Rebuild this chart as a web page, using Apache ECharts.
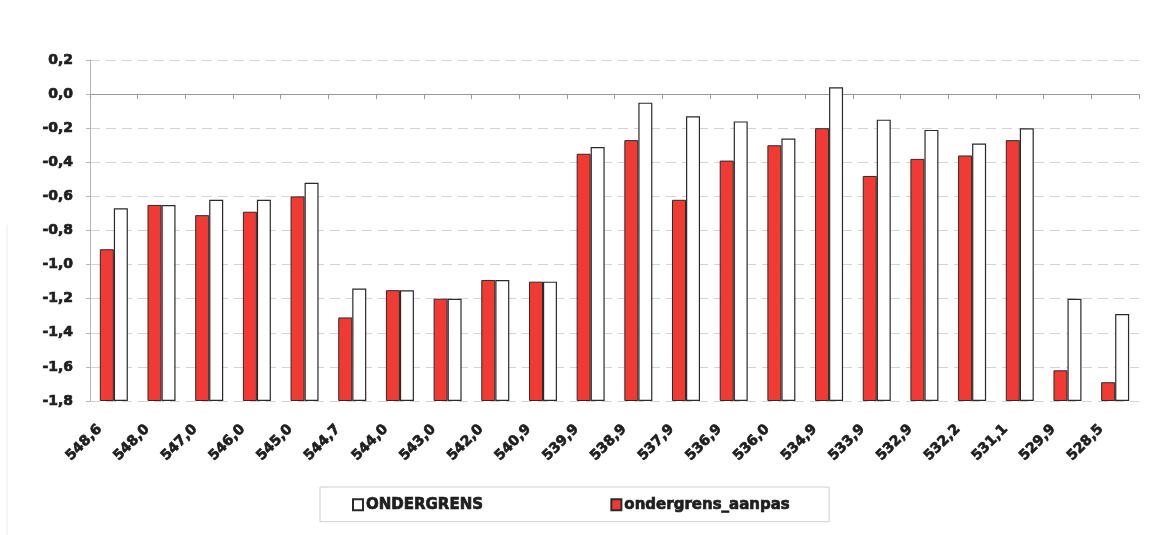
<!DOCTYPE html>
<html>
<head>
<meta charset="utf-8">
<script src="https://cdn.jsdelivr.net/npm/echarts@6/dist/echarts.min.js"></script>
<style>
  html, body { margin: 0; padding: 0; background: #fff; }
  #chart { width: 1157px; height: 535px; }
</style>
</head>
<body>
<div id="chart"></div>
<script>
// Kilometre positions along the dike section
const categories = ['548,6','548,0','547,0','546,0','545,0','544,7','544,0','543,0','542,0','540,9','539,9',
                    '538,9','537,9','536,9','536,0','534,9','533,9','532,9','532,2','531,1','529,9','528,5'];
// Adjusted lower limit (red bars)
const ondergrensAanpas = [-0.91,-0.65,-0.71,-0.69,-0.60,-1.31,-1.15,-1.20,-1.09,-1.10,-0.35,
                          -0.27,-0.62,-0.39,-0.30,-0.20,-0.48,-0.38,-0.36,-0.27,-1.62,-1.69];
// Original lower limit (white bars)
const ondergrens = [-0.67,-0.65,-0.62,-0.62,-0.52,-1.14,-1.15,-1.20,-1.09,-1.10,-0.31,
                    -0.05,-0.13,-0.16,-0.26,0.04,-0.15,-0.21,-0.29,-0.20,-1.20,-1.29];
const Y_MIN = -1.8, Y_MAX = 0.2, Y_STEP = 0.2;

const FONT = 'DejaVu Sans';
const INK = '#1e1e1e';
// Heavy lettering: bold face with a thin stroke in the same colour
const heavy = { fontFamily: FONT, fontWeight: 'bold', fontSize: 14, color: INK,
                textBorderColor: INK, textBorderWidth: 0.7 };

const chart = echarts.init(document.getElementById('chart'), null, { renderer: 'canvas' });

// Bars rise from the bottom of the axis (-1.8), so they are drawn on a hidden
// helper axis whose zero sits at Y_MIN; the visible axis carries the real scale.
const fromBase = v => +(v - Y_MIN).toFixed(4);

chart.setOption({
  animation: false,
  backgroundColor: '#ffffff',
  textStyle: { fontFamily: FONT },
  graphic: [{
    type: 'line', silent: true,
    shape: { x1: 7, y1: 225, x2: 7, y2: 535 },
    style: { stroke: '#ececec', lineWidth: 1 }
  }],
  grid: { left: 90, right: 18, top: 60, bottom: 134, containLabel: false },
  legend: {
    data: ['ONDERGRENS', 'ondergrens_aanpas'],
    icon: 'rect',
    left: 320, top: 487,
    padding: [10, 39, 9, 32],
    itemGap: 127,
    itemWidth: 10, itemHeight: 11,
    borderColor: '#cfcfcf', borderWidth: 1,
    textStyle: Object.assign({}, heavy, { fontSize: 15, padding: [0, 0, 0, -2] })
  },
  xAxis: {
    type: 'category',
    data: categories,
    axisLine: { lineStyle: { color: '#9a9a9a', width: 1 } },
    axisTick: { show: true, length: 5, lineStyle: { color: '#9a9a9a' } },
    axisLabel: Object.assign({ rotate: 45, margin: 12, padding: [0, 20, 0, 0] }, heavy)
  },
  yAxis: [
    {
      type: 'value', min: Y_MIN, max: Y_MAX, interval: Y_STEP,
      axisLine: { show: true, lineStyle: { color: '#b5b5b5' } },
      axisTick: { show: true, length: 4, lineStyle: { color: '#b5b5b5' } },
      splitLine: { show: true, lineStyle: { color: '#d4d4d4', type: [10, 6], width: 1 } },
      axisLabel: Object.assign({
        margin: 17,
        formatter: v => v.toFixed(1).replace('.', ',')
      }, heavy)
    },
    {
      type: 'value', min: 0, max: Y_MAX - Y_MIN, show: false,
      splitLine: { show: false }
    }
  ],
  series: [
    {
      name: 'ondergrens_aanpas', type: 'bar', yAxisIndex: 1,
      data: ondergrensAanpas.map(fromBase),
      barWidth: 14, barGap: '0%',
      itemStyle: { color: '#f23a35', borderColor: '#2a2a2a', borderWidth: 1 }
    },
    {
      name: 'ONDERGRENS', type: 'bar', yAxisIndex: 1,
      data: ondergrens.map(fromBase),
      barWidth: 14, barGap: '0%',
      itemStyle: { color: '#ffffff', borderColor: '#2a2a2a', borderWidth: 1.2 }
    }
  ]
});
</script>
</body>
</html>
